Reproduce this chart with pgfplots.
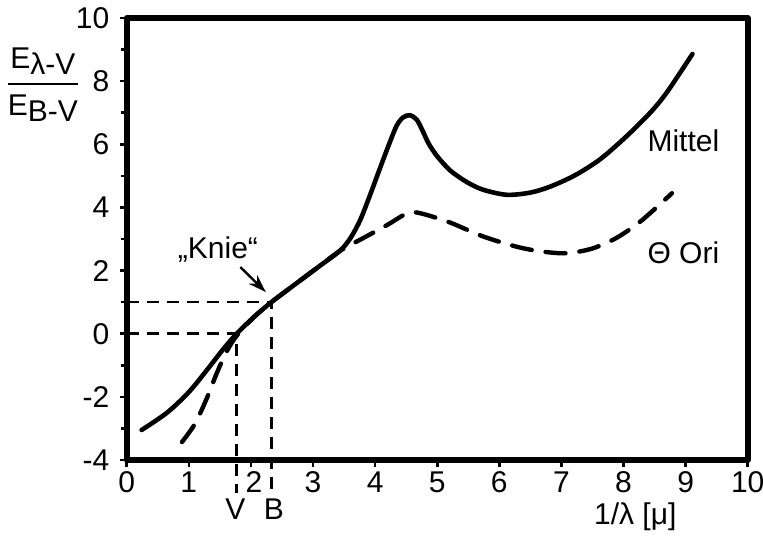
\documentclass[border=0pt]{standalone}
\usepackage{fontspec}
\setmainfont{Liberation Sans}
\usepackage{pgfplots}
\pgfplotsset{compat=1.18}
\usetikzlibrary{arrows.meta}
\begin{document}
\fontsize{15}{18}\selectfont
\begin{tikzpicture}
\useasboundingbox (-63.35pt,-38pt) rectangle (318.15pt,230pt);
\begin{axis}[
  at={(0,0)}, anchor=south west,
  scale only axis, width=310.5pt, height=221pt,
  xmin=0, xmax=10, ymin=-4, ymax=10,
  axis line style={line width=3pt, line join=round},
  tick align=outside, xtick pos=left, ytick pos=left,
  major tick length=3.5pt, minor tick length=3pt,
  tick style={line width=1.3pt, black},
  xtick={0,1,2,3,4,5,6,7,8,9,10},
  xticklabels={0,1,\hspace{3pt}2,3,4,5,6,7,8,9,10},
  ytick={-4,-2,0,2,4,6,8,10},
  yticklabels={-4,-2,0,2,4,6,8,10},
  minor ytick={-3,-1,1,3,5,7,9},
  ticklabel style={font=\fontsize{15}{15}\selectfont},
  xticklabel style={yshift=3pt},
  clip=false,
]
% Theta Ori (dashed)
\addplot[black, line width=2.2pt, line cap=round, dash pattern=on 10pt off 7pt, smooth, tension=0.5] coordinates {
(0.89,-3.43) (1.10,-2.85) (1.30,-2.00) (1.45,-1.25) (1.60,-0.60) (1.72,-0.20)
(1.85,0.12) (2.05,0.53) (2.33,1.0) (2.79,1.68) (3.11,2.15) (3.43,2.62)
(3.80,3.02) (4.20,3.45) (4.45,3.75) (4.60,3.85) (4.80,3.78) (5.21,3.52)
(5.74,3.08) (6.29,2.75) (6.70,2.60) (7.09,2.55) (7.50,2.70) (7.90,3.05)
(8.30,3.60) (8.78,4.45)
};
% Mittel (solid)
\addplot[black, line width=2.3pt, line cap=round, smooth, tension=0.5] coordinates {
(0.24,-3.05) (0.65,-2.50) (1.00,-1.85) (1.30,-1.13) (1.55,-0.50) (1.77,0.0)
(2.05,0.53) (2.33,1.0) (2.79,1.68) (3.11,2.15) (3.43,2.62) (3.60,3.02)
(3.76,3.60) (3.92,4.40) (4.08,5.25) (4.24,6.08) (4.35,6.60) (4.45,6.85)
(4.56,6.92) (4.67,6.78) (4.76,6.45) (4.86,6.03) (5.00,5.62) (5.21,5.17)
(5.48,4.80) (5.74,4.56) (6.12,4.40) (6.50,4.47) (6.82,4.66) (7.22,5.02)
(7.62,5.52) (8.03,6.22) (8.43,7.00) (8.70,7.65) (9.11,8.86)
};
% reference lines
\addplot[black, line width=1.3pt, dash pattern=on 6pt off 4pt] coordinates {(0,1) (2.33,1) (2.33,-5.06)};
\addplot[black, line width=1.3pt, dash pattern=on 6pt off 4pt] coordinates {(0,0) (1.77,0) (1.77,-5.06)};
% Knie arrow
\addplot[black, line width=1.2pt, -{Stealth[length=9pt,width=6pt]}] coordinates {(1.83,2.11) (2.24,1.32)};
\node at (axis cs:1.47,2.68) {„Knie“};
\node[anchor=base west] at (axis cs:8.22,5.76) {Mittel};
\node[anchor=base west] at (axis cs:8.22,2.23) {Θ Ori};
\node at (axis cs:8.19,-5.81) {1/λ [μ]};
\node at (axis cs:1.75,-5.55) {V};
\node at (axis cs:2.37,-5.55) {B};
\node at (axis cs:-1.35,7.88) {${\mbox{E\raisebox{-3pt}{λ-V}\rule[-6pt]{0pt}{6pt}}\above 1.2pt\mbox{\rule{0pt}{14pt}E\raisebox{-3pt}{B-V}}}$};
\end{axis}
\end{tikzpicture}
\end{document}
